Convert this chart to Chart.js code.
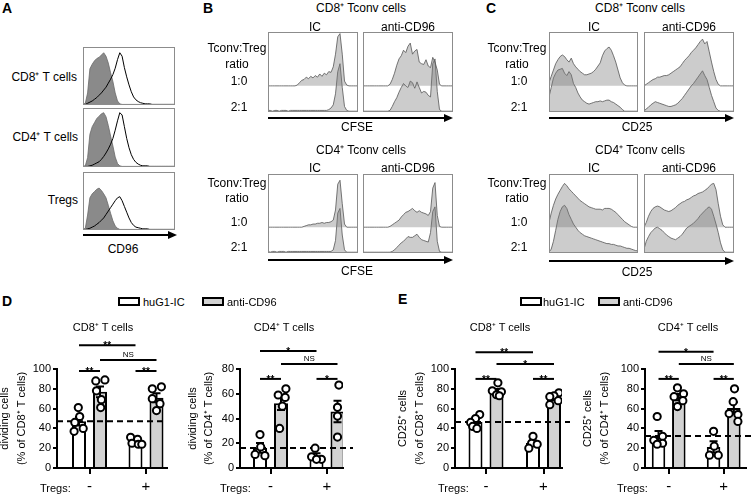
<!DOCTYPE html>
<html><head><meta charset="utf-8">
<script src="https://cdn.jsdelivr.net/npm/chart.js@4.4.1/dist/chart.umd.min.js"></script>
<style>
html,body{margin:0;padding:0;background:#fff;}
#fig{position:relative;width:752px;height:495px;overflow:hidden;font-family:"Liberation Sans",Arial,sans-serif;color:#000;background:#fff;}
#fig canvas{position:absolute;}
.t{position:absolute;white-space:nowrap;line-height:1;}
.axl{position:absolute;background:#000;}
.arr{position:absolute;width:0;height:0;border-top:4.5px solid transparent;border-bottom:4.5px solid transparent;border-left:9px solid #000;}
.lg{position:absolute;box-sizing:border-box;border:2px solid #000;}
</style></head><body><div id="fig"></div>
<script>
// ---------------- DATA ----------------
// Panel A: CD96 histograms (height in % of box), 41 bins along CD96 axis
const aCD8Iso   = [0,2,20,62,70,76,80,82,86,90,84,72,55,40,20,6,1,0,0,0,0,0,0,0,0,0,0,0,0,0,0,0,0,0,0,0,0,0,0,0,0];
const aCD8Cd96  = [0,0,2,4,6,9,12,16,20,25,30,37,44,52,63,78,90,84,64,48,34,22,13,8,5,3,2,1,1,1,0,0,0,0,0,0,0,0,0,0,0];
const aCD4Iso   = [0,1,15,55,68,75,82,86,90,92,85,70,52,35,16,5,1,0,0,0,0,0,0,0,0,0,0,0,0,0,0,0,0,0,0,0,0,0,0,0,0];
const aCD4Cd96  = [0,0,0,1,2,4,6,8,12,17,23,30,38,48,62,78,92,88,68,48,32,20,12,7,4,2,1,1,1,0,0,0,0,0,0,0,0,0,0,0,0];
const aTregIso  = [0,2,25,55,62,66,70,72,68,62,55,42,28,15,6,2,0,0,0,0,0,0,0,0,0,0,0,0,0,0,0,0,0,0,0,0,0,0,0,0,0];
const aTregCd96 = [0,0,1,2,4,6,9,12,16,20,26,32,38,44,50,55,57,50,40,30,20,12,7,4,3,2,1,1,1,0,0,0,0,0,0,0,0,0,0,0,0];

// Panel B: CFSE histograms; "r10" = 1:0 ratio (height above its own baseline), "r21" = 2:1 ratio
const bCD8IcR10   = [0,0,0,0,0,0,0,0,0,0,0,0,0,1,4,7,8,11,9,12,10,13,11,15,12,16,14,18,17,24,40,62,66,40,6,1,0,0,0,0,0];
const bCD8IcR21   = [1,1,0,1,1,0,1,1,1,0,1,1,1,1,1,1,1,1,1,1,1,1,1,1,1,1,1,2,4,8,22,50,60,30,6,1,0,0,0,0,0];
const bCD8AntiR10 = [0,0,0,0,0,0,0,0,0,0,0,0,2,8,16,26,34,38,45,42,50,54,40,44,46,30,28,27,33,25,23,36,30,20,2,0,0,0,0,0,0];
const bCD8AntiR21 = [0,0,0,0,0,0,0,0,0,0,0,0,1,6,12,17,24,30,35,32,30,38,36,29,37,30,23,25,24,20,18,60,66,25,2,0,0,0,0,0,0];
const bCD4IcR10   = [0,0,0,0,0,0,0,0,0,0,0,0,0,0,0,0,1,2,3,3,4,4,5,5,6,5,6,6,7,9,22,55,60,30,4,0,0,0,0,0,0];
const bCD4IcR21   = [1,0,1,1,0,1,1,1,0,1,1,1,1,1,1,1,1,1,1,1,1,1,1,1,1,1,1,1,1,3,15,50,56,22,3,0,0,0,0,0,0];
const bCD4AntiR10 = [0,0,0,0,0,0,0,0,0,0,0,0,1,3,5,7,9,13,16,19,20,22,24,21,19,21,19,18,17,15,20,50,57,15,1,0,0,0,0,0,0];
const bCD4AntiR21 = [0,0,0,0,0,0,0,0,0,0,0,0,0,1,3,6,9,12,14,17,20,19,19,21,23,19,16,15,14,13,25,52,58,14,1,0,0,0,0,0,0];

// Panel C: CD25 histograms
const cCD8IcR10   = [4,12,20,28,33,37,39,37,33,30,35,28,24,21,18,16,14,14,15,16,18,21,25,29,38,44,47,49,45,38,30,20,10,4,1,0,0,0,0,0,0];
const cCD8IcR21   = [18,30,42,48,52,53,54,48,45,50,46,35,30,23,18,14,12,10,9,10,11,12,12,13,12,13,14,14,12,11,9,7,5,2,0,0,0,0,0,0,0];
const cCD8AntiR10 = [0,2,4,6,8,9,11,11,12,13,13,14,16,18,20,22,24,28,32,35,38,42,45,48,52,56,59,53,56,43,30,18,8,2,0,0,0,0,0,0,0];
const cCD8AntiR21 = [0,3,5,8,10,12,11,10,9,8,7,6,6,7,8,10,13,16,20,24,28,32,35,39,43,47,51,45,40,30,20,12,4,1,0,0,0,0,0,0,0];
const cCD4IcR10   = [6,18,28,36,42,47,52,56,53,49,46,43,40,37,34,32,30,28,26,25,24,23,23,23,22,24,24,24,23,21,19,16,13,10,7,5,3,1,0,0,0];
const cCD4IcR21   = [0,4,14,28,42,52,58,60,56,48,42,36,32,28,25,23,21,20,19,18,17,16,15,14,13,12,11,11,10,10,9,8,8,7,6,5,5,4,3,2,2];
const cCD4AntiR10 = [0,6,14,20,24,26,27,26,24,22,21,20,21,23,25,28,30,32,33,35,36,38,40,41,43,44,45,47,49,52,55,56,48,30,14,3,0,0,0,0,0];
const cCD4AntiR21 = [4,14,20,25,28,31,32,30,28,25,22,20,18,17,16,18,20,23,27,31,33,35,37,40,43,47,50,53,56,58,55,46,36,25,12,3,0,0,0,0,0];

// Panels D/E: bar charts with individual points
const tregLabels = ['-', '+'];
const seriesNames = ['huG1-IC', 'anti-CD96'];
const dCD8_icNo = [61, 52, 46, 40, 37];
const dCD8_antiNo = [88, 89, 78, 69, 61];
const dCD8_icTreg = [31, 29, 25, 24, 24];
const dCD8_antiTreg = [80, 82, 70, 65, 58];
const dCD4_icNo = [27, 17, 11, 10];
const dCD4_antiNo = [64, 59, 57, 50, 32];
const dCD4_icTreg = [16, 9, 7, 7];
const dCD4_antiTreg = [67, 49, 42, 25];
const eCD8_icNo = [54, 50, 46, 42, 40];
const eCD8_antiNo = [86, 78, 77, 74, 73];
const eCD8_icTreg = [32, 25, 24, 20];
const eCD8_antiTreg = [76, 73, 72, 68, 64];
const eCD4_icNo = [52, 32, 28, 25, 24];
const eCD4_antiNo = [81, 75, 72, 68, 62];
const eCD4_icTreg = [37, 22, 13, 13];
const eCD4_antiTreg = [80, 67, 55, 54, 47];

// significance annotations: [series, group] pairs, height in axis units, label
const sigD8 = [{a:[0,0],b:[0,1],at:124,text:'**'},{a:[1,0],b:[1,1],at:109,text:'NS'},{a:[0,0],b:[1,0],at:98,text:'**'},{a:[0,1],b:[1,1],at:98,text:'**'}];
const sigD4 = [{a:[0,0],b:[0,1],at:94.5,text:'*'},{a:[1,0],b:[1,1],at:84,text:'NS'},{a:[0,0],b:[1,0],at:72,text:'**'},{a:[0,1],b:[1,1],at:72,text:'*'}];
const sigE8 = [{a:[0,0],b:[0,1],at:117,text:'**'},{a:[1,0],b:[1,1],at:105,text:'*'},{a:[0,0],b:[1,0],at:90,text:'**'},{a:[0,1],b:[1,1],at:90,text:'**'}];
const sigE4 = [{a:[0,0],b:[0,1],at:117.5,text:'*'},{a:[1,0],b:[1,1],at:105,text:'NS'},{a:[0,0],b:[1,0],at:90,text:'**'},{a:[0,1],b:[1,1],at:90,text:'**'}];

// point jitter (fraction of bar width) [series][group][point]
const jitD8 = [[[-0.05,0.05,-0.3,0.3,-0.35],[-0.35,0.15,-0.25,0.2,0.45]],[[-0.3,0.35,-0.25,0.1,0.05],[-0.3,0.35,-0.3,0.25,0]]];
const jitD4 = [[[0,0.05,-0.35,0.35],[-0.1,-0.35,0.35,0]],[[0.35,-0.2,0.3,0.1,-0.1],[0.1,0,0,0]]];
const jitE8 = [[[0.3,0,-0.35,-0.2,0.1],[0,-0.1,0.3,-0.3]],[[0.1,-0.3,0.35,0,0.2],[0.35,0,-0.3,0.3,-0.3]]];
const jitE4 = [[[-0.1,0.3,-0.35,0.3,-0.1],[0,0.05,-0.3,0.35]],[[-0.1,0.35,-0.35,0.3,-0.1],[0.05,-0.05,-0.35,0.3,0.3]]];

// ---------------- RENDERING ----------------
Chart.defaults.font.family = '"Liberation Sans", Arial, sans-serif';
Chart.defaults.color = '#000';
Chart.defaults.animation = false;
const fig = document.getElementById('fig');

function addCanvas(l, t, w, h) {
  const c = document.createElement('canvas');
  c.width = w; c.height = h;
  c.style.left = l + 'px'; c.style.top = t + 'px';
  c.style.width = w + 'px'; c.style.height = h + 'px';
  fig.appendChild(c);
  return c;
}
function txt(s, x, y, o) {
  o = o || {};
  const d = document.createElement('div');
  d.className = 't';
  d.textContent = s;
  d.style.fontSize = (o.size || 12) + 'px';
  if (o.bold) d.style.fontWeight = 'bold';
  d.style.top = y + 'px';
  const a = o.align || 'center';
  if (a === 'center') { d.style.left = x + 'px'; d.style.transform = 'translate(-50%,-50%)'; }
  else if (a === 'right') { d.style.right = (752 - x) + 'px'; d.style.transform = 'translateY(-50%)'; }
  else { d.style.left = x + 'px'; d.style.transform = 'translateY(-50%)'; }
  fig.appendChild(d);
}
function hArrow(x1, x2, y) {
  const l = document.createElement('div'); l.className = 'axl';
  l.style.left = x1 + 'px'; l.style.top = (y - 1) + 'px'; l.style.width = (x2 - x1 - 7) + 'px'; l.style.height = '2px';
  fig.appendChild(l);
  const a = document.createElement('div'); a.className = 'arr';
  a.style.left = (x2 - 9) + 'px'; a.style.top = (y - 4.5) + 'px';
  fig.appendChild(a);
}
function legendBox(x, y, fill) {
  const b = document.createElement('div'); b.className = 'lg';
  b.style.left = x + 'px'; b.style.top = y + 'px'; b.style.width = '22px'; b.style.height = '9px'; b.style.background = fill;
  fig.appendChild(b);
}

const framePlugin = {
  id: 'frame',
  afterDraw(chart) {
    const {ctx, chartArea: a} = chart;
    ctx.save(); ctx.strokeStyle = '#8c8c8c'; ctx.lineWidth = 1;
    ctx.strokeRect(a.left + 0.5, a.top + 0.5, a.right - a.left - 1, a.bottom - a.top - 1);
    ctx.restore();
  }
};

function histChart(left, top, w, h, sets) {
  const cv = addCanvas(left, top, w, h);
  new Chart(cv, {
    type: 'line',
    data: { datasets: sets.map(d => ({
      data: d.values.map((v, i) => ({x: i, y: v + (d.base || 0)})),
      fill: d.fill, backgroundColor: d.bg || 'transparent', borderColor: d.line, borderWidth: d.lw,
      pointRadius: 0, tension: 0
    }))},
    options: {
      responsive: false, devicePixelRatio: 1, animation: false, events: [],
      layout: {padding: 0},
      plugins: {legend: {display: false}, tooltip: {enabled: false}},
      scales: {x: {type: 'linear', display: false, min: 0, max: 40}, y: {display: false, min: -1, max: 100}}
    },
    plugins: [framePlugin]
  });
}

const BASE = 32; // baseline of the 1:0 histogram in the staggered overlay
const fillCol = 'rgba(120,120,120,0.38)';
function overlay(left, top, w, h, r10, r21) {
  histChart(left, top, w, h, [
    {values: r10, base: BASE, fill: {value: BASE}, bg: fillCol, line: '#555', lw: 0.8},
    {values: r21, base: 0, fill: 'origin', bg: fillCol, line: '#555', lw: 0.8}
  ]);
}

// Panel A
function aPanel(top, h, iso, cd96) {
  histChart(83, top, 92, h, [
    {values: cd96, fill: false, line: '#000', lw: 1},
    {values: iso, fill: 'origin', bg: '#8a8a8a', line: '#6a6a6a', lw: 0.8}
  ]);
}
aPanel(47, 58, aCD8Iso, aCD8Cd96);
aPanel(108, 59, aCD4Iso, aCD4Cd96);
aPanel(172, 58, aTregIso, aTregCd96);

// Panels B & C
overlay(268, 32, 90, 80, bCD8IcR10, bCD8IcR21);
overlay(363, 32, 90, 80, bCD8AntiR10, bCD8AntiR21);
overlay(268, 174, 90, 79, bCD4IcR10, bCD4IcR21);
overlay(363, 174, 90, 79, bCD4AntiR10, bCD4AntiR21);
overlay(549, 32, 89, 80, cCD8IcR10, cCD8IcR21);
overlay(644, 32, 90, 80, cCD8AntiR10, cCD8AntiR21);
overlay(549, 174, 89, 79, cCD4IcR10, cCD4IcR21);
overlay(644, 174, 90, 79, cCD4AntiR10, cCD4AntiR21);

// Bar charts
const mean = a => a.reduce((s, v) => s + v, 0) / a.length;
const sem = a => { const m = mean(a); return Math.sqrt(a.reduce((s, v) => s + (v - m) * (v - m), 0) / (a.length - 1)) / Math.sqrt(a.length); };

function barChart(o) {
  const cv = addCanvas(o.left, o.top, o.width, o.height);
  const spacing = o.g2 - o.g1;
  const xmin = 1 - (o.g1 - o.axisX) / spacing;
  const xmax = 2 + (o.axisEnd - o.g2) / spacing;
  const barW = 14, slot = 21;
  const offU = (slot / 2) / spacing, wU = barW / spacing;
  const groups = o.groups;
  const dots = [];
  groups.forEach((ser, s) => ser.forEach((pts, g) => pts.forEach((v, k) => {
    dots.push({x: 1 + g + (s ? offU : -offU) + o.jitter[s][g][k] * wU, y: v});
  })));
  const extras = {
    id: 'extras',
    beforeDatasetDraw(chart, args) {
      if (args.index !== 0) return;
      const ctx = chart.ctx, ys = chart.scales.y, a = chart.chartArea;
      ctx.save();
      // dashed reference line (huG1-IC without Tregs)
      const yd = ys.getPixelForValue(mean(groups[0][0]));
      ctx.setLineDash([6, 4]); ctx.lineWidth = 2; ctx.strokeStyle = '#000';
      ctx.beginPath(); ctx.moveTo(a.left, yd); ctx.lineTo(o.dashEnd - o.left, yd); ctx.stroke();
      ctx.setLineDash([]);
      // error bars
      groups.forEach((ser, s) => ser.forEach((pts, g) => {
        const el = chart.getDatasetMeta(1 + s).data[g];
        const m = mean(pts), e = sem(pts);
        const y1 = ys.getPixelForValue(m + e), y2 = ys.getPixelForValue(m - e);
        ctx.beginPath();
        ctx.moveTo(el.x, y1); ctx.lineTo(el.x, y2);
        ctx.moveTo(el.x - 4, y1); ctx.lineTo(el.x + 4, y1);
        ctx.moveTo(el.x - 4, y2); ctx.lineTo(el.x + 4, y2);
        ctx.stroke();
      }));
      // significance bars
      o.sig.forEach(sg => {
        const xa = chart.getDatasetMeta(1 + sg.a[0]).data[sg.a[1]].x;
        const xb = chart.getDatasetMeta(1 + sg.b[0]).data[sg.b[1]].x;
        const y = ys.getPixelForValue(sg.at);
        ctx.lineWidth = 2;
        ctx.beginPath(); ctx.moveTo(xa, y); ctx.lineTo(xb, y); ctx.stroke();
        ctx.fillStyle = '#000'; ctx.textAlign = 'center';
        if (sg.text === 'NS') { ctx.font = '8px "Liberation Sans", Arial'; ctx.textBaseline = 'alphabetic'; ctx.fillText('NS', (xa + xb) / 2, y - 3); }
        else { ctx.font = 'bold 10px "Liberation Sans", Arial'; ctx.textBaseline = 'alphabetic'; ctx.fillText(sg.text, (xa + xb) / 2, y + 4); }
      });
      ctx.restore();
    }
  };
  new Chart(cv, {
    type: 'bar',
    data: { datasets: [
      {type: 'scatter', data: dots, order: 0, pointRadius: 3.6, pointHoverRadius: 3.6, borderWidth: 2, backgroundColor: '#fff', borderColor: '#000'},
      {label: seriesNames[0], data: groups[0].map((p, g) => ({x: 1 + g, y: mean(p)})), backgroundColor: '#fff', borderColor: '#000', borderWidth: 2, order: 1, categoryPercentage: 2 * slot / spacing, barPercentage: barW / slot},
      {label: seriesNames[1], data: groups[1].map((p, g) => ({x: 1 + g, y: mean(p)})), backgroundColor: '#d2d2d2', borderColor: '#000', borderWidth: 2, order: 1, categoryPercentage: 2 * slot / spacing, barPercentage: barW / slot}
    ]},
    options: {
      responsive: false, devicePixelRatio: 1, animation: false, events: [],
      layout: {padding: {top: o.yTop - o.top, right: o.left + o.width - o.axisEnd, left: 0, bottom: 0}},
      plugins: {legend: {display: false}, tooltip: {enabled: false}},
      scales: {
        x: {type: 'linear', min: xmin, max: xmax, offset: false,
          afterBuildTicks: s => { s.ticks = [{value: 1}, {value: 2}]; },
          afterFit: s => { s.height = o.top + o.height - o.yBottom; },
          ticks: {callback: (v, i) => tregLabels[i], font: {size: 15}, color: '#000', padding: 4, maxRotation: 0, autoSkip: false},
          grid: {drawOnChartArea: false, offset: false, tickLength: 6, color: '#000', lineWidth: 2},
          border: {color: '#000', width: 2}},
        y: {min: 0, max: o.yMax,
          afterFit: s => { s.width = o.axisX - o.left; },
          ticks: {stepSize: 20, font: {size: 11}, color: '#000', padding: 2},
          grid: {drawOnChartArea: false, tickLength: 4, color: '#000', lineWidth: 2},
          border: {color: '#000', width: 2},
          title: {display: true, text: o.yTitle, color: '#000', font: {size: 11, lineHeight: 1.5}, padding: {top: o.titlePad, bottom: 0}}}
      }
    },
    plugins: [extras]
  });
}

barChart({left: 0, top: 330, width: 185, height: 165, axisX: 57, axisEnd: 167, g1: 89.5, g2: 146, yTop: 369, yBottom: 468, yMax: 100, dashEnd: 167,
  groups: [[dCD8_icNo, dCD8_icTreg], [dCD8_antiNo, dCD8_antiTreg]], jitter: jitD8, sig: sigD8,
  yTitle: ['dividing cells', '(% of CD8⁺ T cells)'], titlePad: -3});
barChart({left: 180, top: 330, width: 180, height: 165, axisX: 240, axisEnd: 343, g1: 270.5, g2: 327, yTop: 369, yBottom: 468, yMax: 80, dashEnd: 353,
  groups: [[dCD4_icNo, dCD4_icTreg], [dCD4_antiNo, dCD4_antiTreg]], jitter: jitD4, sig: sigD4,
  yTitle: ['dividing cells', '(% of CD4⁺ T cells)'], titlePad: 4.5});
barChart({left: 395, top: 330, width: 180, height: 165, axisX: 455, axisEnd: 562, g1: 486, g2: 543.5, yTop: 369, yBottom: 468, yMax: 100, dashEnd: 570,
  groups: [[eCD8_icNo, eCD8_icTreg], [eCD8_antiNo, eCD8_antiTreg]], jitter: jitE8, sig: sigE8,
  yTitle: ['CD25⁺ cells', '(% of CD8⁺ T cells)'], titlePad: 0});
barChart({left: 580, top: 330, width: 172, height: 165, axisX: 645, axisEnd: 750, g1: 669.5, g2: 726.5, yTop: 369, yBottom: 468, yMax: 100, dashEnd: 752,
  groups: [[eCD4_icNo, eCD4_icTreg], [eCD4_antiNo, eCD4_antiTreg]], jitter: jitE4, sig: sigE4,
  yTitle: ['CD25⁺ cells', '(% of CD4⁺ T cells)'], titlePad: 0});

// ---------------- TEXT & AXES ----------------
txt('A', 2, 8, {align: 'left', size: 14, bold: true});
txt('B', 203, 8, {align: 'left', size: 14, bold: true});
txt('C', 486, 8, {align: 'left', size: 14, bold: true});
txt('D', 2, 301, {align: 'left', size: 14, bold: true});
txt('E', 398, 299, {align: 'left', size: 14, bold: true});

txt('CD8⁺ T cells', 77, 77, {align: 'right'});
txt('CD4⁺ T cells', 78, 137, {align: 'right'});
txt('Tregs', 78, 200, {align: 'right'});
hArrow(83, 177, 235);
txt('CD96', 123, 249);

function ratioBlock(cx, yT, yR, y10, y21) {
  txt('Tconv:Treg', cx, yT); txt('ratio', cx, yR); txt('1:0', cx + 2, y10); txt('2:1', cx + 2, y21);
}
// B
txt('CD8⁺ Tconv cells', 361, 8); txt('IC', 315, 27); txt('anti-CD96', 408, 27);
ratioBlock(237, 48, 64, 81, 107);
hArrow(268, 453, 118); txt('CFSE', 357, 127);
txt('CD4⁺ Tconv cells', 361, 150); txt('IC', 315, 168); txt('anti-CD96', 408, 168);
ratioBlock(237, 183, 198, 222, 247);
hArrow(268, 453, 260); txt('CFSE', 357, 271);
// C
txt('CD8⁺ Tconv cells', 640, 8); txt('IC', 594, 27); txt('anti-CD96', 689, 27);
ratioBlock(517, 48, 64, 81, 107);
hArrow(549, 734, 118); txt('CD25', 637, 127);
txt('CD4⁺ Tconv cells', 640, 150); txt('IC', 594, 168); txt('anti-CD96', 689, 168);
ratioBlock(517, 183, 198, 222, 247);
hArrow(549, 734, 261); txt('CD25', 637, 272);

// D/E legends
legendBox(118, 297, '#fff'); txt(seriesNames[0], 143, 302, {align: 'left', size: 11});
legendBox(202, 297, '#d2d2d2'); txt(seriesNames[1], 227, 302, {align: 'left', size: 11});
legendBox(520, 297, '#fff'); txt(seriesNames[0], 543, 302, {align: 'left', size: 11});
legendBox(598, 297, '#d2d2d2'); txt(seriesNames[1], 623, 302, {align: 'left', size: 11});

// bar chart titles and Tregs labels
txt('CD8⁺ T cells', 103, 327, {size: 11});
txt('CD4⁺ T cells', 284, 327, {size: 11});
txt('CD8⁺ T cells', 500, 327, {size: 11});
txt('CD4⁺ T cells', 688, 327, {size: 11});
txt('Tregs:', 40, 488, {align: 'left', size: 11});
txt('Tregs:', 220, 488, {align: 'left', size: 11});
txt('Tregs:', 438, 488, {align: 'left', size: 11});
txt('Tregs:', 617, 488, {align: 'left', size: 11});
</script></body></html>
